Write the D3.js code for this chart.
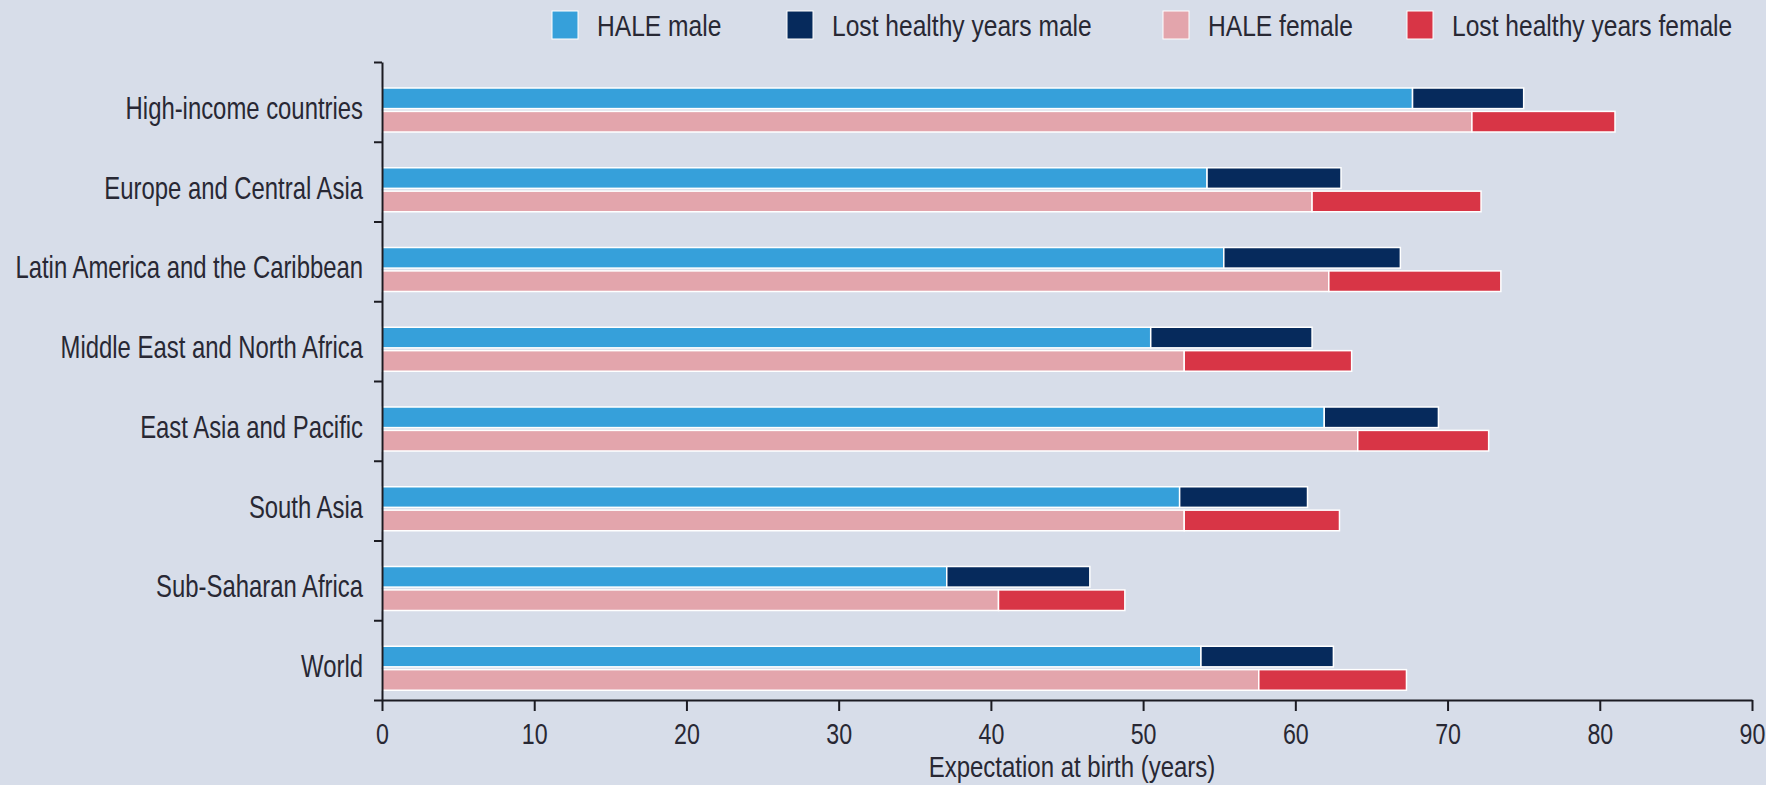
<html lang="en">
<head>
    <meta charset="UTF-8">
    <title>HALE by region</title>
    <style>
        body { margin: 0; background: #d7dde9; }
        text { font-family: "Liberation Sans", Arial, sans-serif; fill: #282834; }
    </style>
</head>
<body>
<script src="https://d3js.org/d3.v7.min.js"></script>
<script>
    // regions, top to bottom
    var regions = ["High-income countries", "Europe and Central Asia", "Latin America and the Caribbean",
        "Middle East and North Africa", "East Asia and Pacific", "South Asia", "Sub-Saharan Africa", "World"];
    // years
    var haleMale   = [67.7, 54.2, 55.3, 50.5, 61.9, 52.4, 37.1, 53.8];
    var lostMale   = [7.3, 8.8, 11.6, 10.6, 7.5, 8.4, 9.4, 8.7];
    var haleFemale = [71.6, 61.1, 62.2, 52.7, 64.1, 52.7, 40.5, 57.6];
    var lostFemale = [9.4, 11.1, 11.3, 11.0, 8.6, 10.2, 8.3, 9.7];
    var xTicks = [0, 10, 20, 30, 40, 50, 60, 70, 80, 90];
    var legendLabels = ["HALE male", "Lost healthy years male", "HALE female", "Lost healthy years female"];

    var colors = ["#36a0da", "#062a5c", "#e3a5ac", "#d83546"];
    var legendX = [552, 787, 1163, 1407];

    var W = 1766, H = 785;
    var mLeft = 382, mRight = 1752, mTop = 62, mBottom = 700;

    var svg = d3.select("body").append("svg").attr("width", W).attr("height", H);

    var x = d3.scaleLinear().domain([0, 90]).range([mLeft, mRight]);
    var y = d3.scaleBand().domain(regions).range([mTop, mBottom]);
    var sex = d3.scaleBand().domain(["male", "female"]).range([26, 70]).paddingInner(0.12);

    var rows = regions.map(function (r, i) {
        return [
            {region: r, sex: "male", hale: haleMale[i], lost: lostMale[i], c: 0},
            {region: r, sex: "female", hale: haleFemale[i], lost: lostFemale[i], c: 2}
        ];
    });
    rows = [].concat.apply([], rows);

    var bars = svg.append("g").selectAll("g").data(rows).enter().append("g")
        .attr("transform", function (d) { return "translate(0," + (y(d.region) + sex(d.sex)) + ")"; });

    bars.append("rect")
        .attr("x", x(0))
        .attr("width", function (d) { return x(d.hale) - x(0); })
        .attr("height", sex.bandwidth())
        .attr("fill", function (d) { return colors[d.c]; })
        .attr("stroke", "#fff").attr("stroke-width", 1.5);

    bars.append("rect")
        .attr("x", function (d) { return x(d.hale); })
        .attr("width", function (d) { return x(d.hale + d.lost) - x(d.hale); })
        .attr("height", sex.bandwidth())
        .attr("fill", function (d) { return colors[d.c + 1]; })
        .attr("stroke", "#fff").attr("stroke-width", 1.5);

    // y axis: ticks between the regions
    var yIdx = d3.scaleLinear().domain([0, regions.length]).range([mTop, mBottom]);
    svg.append("g").attr("transform", "translate(" + mLeft + ",0)")
        .call(d3.axisLeft(yIdx).ticks(regions.length).tickSize(8).tickSizeOuter(0).tickFormat(""));

    // region labels, centred on the bar pairs (narrowed to look condensed)
    var labels = svg.append("g").attr("transform", "translate(" + (mLeft - 19) + ",7)")
        .call(d3.axisLeft(y).tickSize(0).tickPadding(0));
    labels.select(".domain").remove();
    labels.selectAll("text").attr("fill", null)
        .style("font-size", "31px").attr("transform", "scale(0.77,1)");

    var xAxis = svg.append("g").attr("transform", "translate(0," + mBottom + ")")
        .call(d3.axisBottom(x).tickValues(xTicks).tickSize(11).tickSizeOuter(0).tickPadding(12));
    xAxis.selectAll("text").attr("fill", null)
        .style("font-size", "29px").attr("transform", "scale(0.8,1)");

    svg.selectAll(".domain, .tick line").attr("stroke", "#1b1b22").attr("stroke-width", 2);

    svg.append("text")
        .attr("transform", "translate(" + ((mLeft + mRight) / 2 + 5) + ",777) scale(0.8,1)")
        .attr("text-anchor", "middle")
        .style("font-size", "30px")
        .text("Expectation at birth (years)");

    // legend
    var legend = svg.append("g").selectAll("g").data(legendLabels).enter().append("g")
        .attr("transform", function (d, i) { return "translate(" + legendX[i] + ",11)"; });
    legend.append("rect")
        .attr("width", 26).attr("height", 28)
        .attr("fill", function (d, i) { return colors[i]; })
        .attr("stroke", "#fff").attr("stroke-width", 1);
    legend.append("text")
        .attr("transform", "translate(45,25) scale(0.82,1)")
        .style("font-size", "30px")
        .text(function (d) { return d; });
</script>
</body>
</html>
